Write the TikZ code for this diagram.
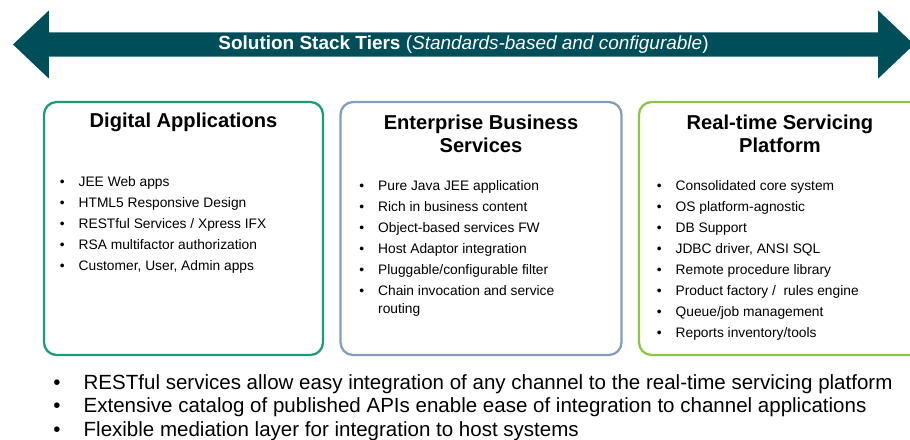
\documentclass[tikz,border=0pt]{standalone}
\usepackage{fontspec}
\setmainfont{Liberation Sans}
\usepackage{tikz}
\usetikzlibrary{positioning,shapes.arrows}

\definecolor{tierteal}{RGB}{0,78,90}
\definecolor{appsgreen}{RGB}{28,155,123}
\definecolor{ebsblue}{RGB}{132,156,190}
\definecolor{rtgreen}{RGB}{140,196,72}

\newcommand{\tierlist}[1]{\begin{tabular}{@{}l@{\hspace{10pt}}l@{}}#1\end{tabular}}

\tikzset{
  tierbox/.style={draw,line width=1.6pt,rounded corners=9pt,minimum height=63.25mm,inner sep=0pt},
  tiertitle/.style={font=\fontsize{14.3}{16.4}\selectfont\bfseries,align=center,inner sep=0pt},
  tieritems/.style={font=\fontsize{9.8}{14.9}\selectfont,anchor=west,inner sep=0pt},
}

\begin{document}
\begin{tikzpicture}[x=0.25mm,y=-0.25mm]
      \useasboundingbox (0,0) rectangle (910,439);

      \node[double arrow,fill=tierteal,text=white,inner sep=0pt,
            minimum height=225.25mm,minimum width=17mm,
            double arrow head extend=4.1mm,double arrow tip angle=87,
            font=\fontsize{13.5}{16}\selectfont] (tiers) at (463.5,44.5)
            {\textbf{Solution Stack Tiers} (\textit{Standards-based and configurable})};

      \node[tierbox,draw=appsgreen,minimum width=69.75mm] (apps) at (183.5,228.5) {};
      \node[tierbox,draw=ebsblue,minimum width=70.25mm] (ebs) at (481,228.5) {};
      \node[tierbox,draw=rtgreen,minimum width=73mm] (rt) at (785,228.5) {};

      \node[tiertitle] (t1) at ([yshift=-21.5*0.25mm]apps.north) {Digital Applications};
      \node[tiertitle] (t2) at ([yshift=-32.5*0.25mm]ebs.north) {Enterprise Business\\Services};
      \node[tiertitle] (t3) at ([yshift=-32.5*0.25mm]rt.north -| 780,0) {Real-time Servicing\\Platform};

      \node[tieritems] (l1) at (59.5,224) {\tierlist{
        • & JEE Web apps\\
        • & HTML5 Responsive Design\\
        • & RESTful Services / Xpress IFX\\
        • & RSA multifactor authorization\\
        • & Customer, User, Admin apps}};
      \node[tieritems] (l2) at (359,247.5) {\tierlist{
        • & Pure Java JEE application\\
        • & Rich in business content\\
        • & Object-based services FW\\
        • & Host Adaptor integration\\
        • & Pluggable/configurable filter\\
        • & Chain invocation and service\\[-2.1pt]
          & routing}};
      \node[tieritems] (l3) at (656.5,259.5) {\tierlist{
        • & Consolidated core system\\
        • & OS platform-agnostic\\
        • & DB Support\\
        • & JDBC driver, ANSI SQL\\
        • & Remote procedure library\\
        • & Product factory /\ \ rules engine\\
        • & Queue/job management\\
        • & Reports inventory/tools}};

      \node[tieritems,font=\fontsize{14.6}{16.9}\selectfont] (notes) at (53,408) {%
        \begin{tabular}{@{}l@{\hspace{16.5pt}}l@{}}
        • & RESTful services allow easy integration of any channel to the real-time servicing platform\\
        • & Extensive catalog of published APIs enable ease of integration to channel applications\\
        • & Flexible mediation layer for integration to host systems
        \end{tabular}};
    \end{tikzpicture}
\end{document}
